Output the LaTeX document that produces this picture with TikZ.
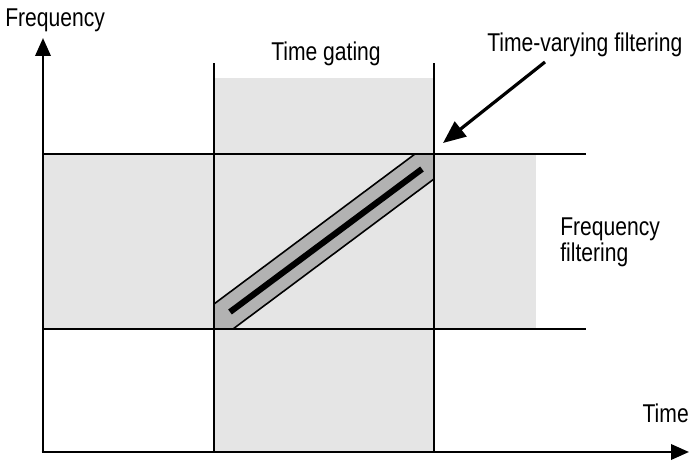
\documentclass[tikz,border=0pt]{standalone}
\usepackage{fontspec}
\setmainfont[FakeStretch=0.82]{Liberation Sans}
\usetikzlibrary{arrows.meta}
\definecolor{lightgr}{HTML}{E5E5E5}
\definecolor{bandgr}{HTML}{B2B2B2}
\begin{document}
\begin{tikzpicture}[x=0.75pt,y=-0.75pt,
  lbl/.style={inner sep=0pt,font=\fontsize{19.3}{23}\selectfont},
  gridline/.style={line width=1.9pt},
  axis/.style={line width=1.9pt,-{Triangle[length=13.5pt,width=11.5pt]}},
  pointer/.style={line width=2.4pt,-{Triangle[length=17pt,width=14pt]}}]
\useasboundingbox (0,0) rectangle (690,463);
% shaded regions
\fill[lightgr] (43,154) rectangle (536,329);
\fill[lightgr] (214,78) rectangle (434,452);
% coordinates
\coordinate (O) at (43,452);
\coordinate (Ytop) at (43,38);
\coordinate (Xend) at (689,452);
\coordinate (G1b) at (214,452);
\coordinate (G1t) at (214,63);
\coordinate (G2b) at (434,452);
\coordinate (G2t) at (434,63);
\coordinate (F1l) at (43,154);
\coordinate (F1r) at (586,154);
\coordinate (F2l) at (43,329);
\coordinate (F2r) at (586,329);
\coordinate (Pa) at (545,62);
\coordinate (Pb) at (443,143);
\coordinate (La) at (230,312);
\coordinate (Lb) at (422,169);
% lines
\draw[gridline] (F1l) -- (F1r);
\draw[gridline] (F2l) -- (F2r);
\draw[gridline] (G1b) -- (G1t);
\draw[gridline] (G2b) -- (G2t);
% band
\draw[fill=bandgr,line width=1.2pt,line join=miter]
  (214,329) -- (214,304) -- (415,154) -- (434,154) -- (434,179) -- (233,329) -- cycle;
\draw[line width=4.6pt] (La) -- (Lb);
% axes
\draw[axis] (O) -- (Ytop);
\draw[axis] ([xshift=-0.95pt]O) -- (Xend);
% pointer
\draw[pointer] (Pa) -- (Pb);
% labels
\node[lbl,anchor=base west] (freq) at (5,27) {Frequency};
\node[lbl,anchor=base] (tg) at (326,61) {Time gating};
\node[lbl,anchor=base west] (tvf) at (487,52) {Time-varying filtering};
\node[lbl,anchor=base west] (ff1) at (560,236) {Frequency};
\node[lbl,anchor=base west] (ff2) at (560,262) {filtering};
\node[lbl,anchor=base east] (time) at (689,423) {Time};
\end{tikzpicture}
\end{document}
